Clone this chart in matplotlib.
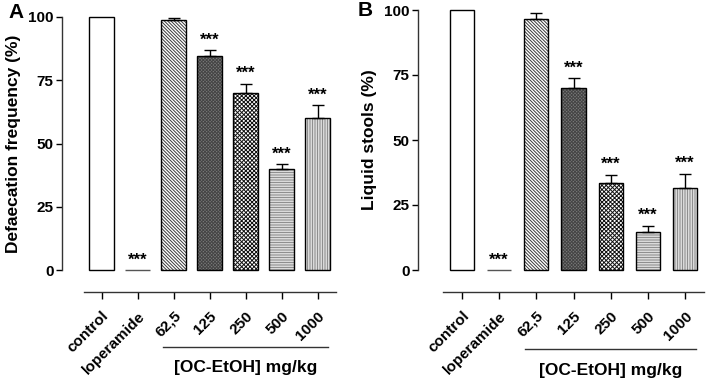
import numpy as np
import matplotlib
matplotlib.use("Agg")
from matplotlib import pyplot as plt

plt.rcParams['font.family'] = ['Liberation Sans', 'DejaVu Sans']
plt.rcParams['font.weight'] = 'bold'
plt.rcParams['hatch.linewidth'] = 0.7

groups = ['control', 'loperamide', '62,5', '125', '250', '500', '1000']
dose_label = '[OC-EtOH] mg/kg'

defaecation = [100, 0, 98.8, 84.6, 70.0, 40.0, 60.0]
defaecation_err = [0, 0, 0.8, 2.2, 3.6, 1.9, 5.2]

liquid = [100, 0, 96.7, 70.0, 33.3, 14.8, 31.7]
liquid_err = [0, 0, 2.1, 3.7, 3.4, 2.3, 5.3]

signif = ['', '***', '', '***', '***', '***', '***']

faces = ['white', 'white', 'white', '#7a7a7a', 'white', 'white', 'white']
hatch_cols = ['white', 'white', '#3a3a3a', '#444444', '#111111', '#8c8c8c', '#8c8c8c']
edges = ['black', '#555555', 'black', 'black', 'black', 'black', 'black']
hatches = [None, None, '\\' * 10, 'x' * 10, 'x' * 8, '-' * 10, '|' * 10]


def panel(fig, rect, values, errors, ylabel, xleft, width):
    ax = fig.add_axes(rect)
    x = np.arange(len(groups))
    bars = ax.bar(x, values, width=width, color=faces, edgecolor=hatch_cols,
                  linewidth=0, zorder=2)
    for b, h in zip(bars, hatches):
        if h:
            b.set_hatch(h)
    ax.bar(x, values, width=width, fill=False, edgecolor=edges,
           linewidth=1.0, zorder=2.5, clip_on=False)
    ax.errorbar(x[2:], values[2:], yerr=[np.zeros(5), errors[2:]],
                fmt='none', ecolor='black', elinewidth=1.0, capsize=4,
                capthick=1.0, zorder=3)
    for xi, v, e, s in zip(x, values, errors, signif):
        if s:
            ax.text(xi, v + e + 1.0, s, ha='center', va='bottom',
                    fontsize=12, fontweight='bold', clip_on=False)

    ax.set_xlim(xleft, 6.55)
    ax.set_ylim(0, 100)
    ax.set_yticks([0, 25, 50, 75, 100])
    ax.tick_params(axis='y', labelsize=11, width=1, length=4, pad=2)
    ax.set_ylabel(ylabel, fontsize=12.5, fontweight='bold', labelpad=5)

    for s in ['top', 'right']:
        ax.spines[s].set_visible(False)
    ax.spines['left'].set_linewidth(1)
    ax.spines['left'].set_color('#333333')
    ax.spines['bottom'].set_position(('outward', 16))
    ax.spines['bottom'].set_bounds(-0.5, 6.5)
    ax.spines['bottom'].set_linewidth(1)
    ax.spines['bottom'].set_color('#333333')
    ax.set_xticks(x)
    ax.set_xticklabels(groups, rotation=45, ha='right', rotation_mode='anchor',
                       fontsize=11, fontweight='bold')
    ax.tick_params(axis='x', width=1, length=5, pad=7)

    tr = ax.get_xaxis_transform()
    ax.plot([1.7, 6.3], [-0.305, -0.305], color='#333333', lw=1,
            transform=tr, clip_on=False)
    ax.text(4.0, -0.385, dose_label, transform=tr, ha='center', va='center',
            fontsize=12.5, fontweight='bold')
    return ax


fig = plt.figure(figsize=(7.06, 3.8), dpi=100)
W, H = 706.0, 380.0
axA = panel(fig, [62 / W, 110 / H, 275.4 / W, 253 / H], defaecation,
            defaecation_err, 'Defaecation frequency (%)', -1.1, 0.7)
axB = panel(fig, [418 / W, 110 / H, 287.6 / W, 260 / H], liquid,
            liquid_err, 'Liquid stools (%)', -1.18, 0.65)
fig.text(8 / W, 1 - 13 / H, 'A', fontsize=15, fontweight='bold', va='center')
fig.text(358 / W, 1 - 11 / H, 'B', fontsize=15, fontweight='bold', va='center')

fig.savefig('out.png', dpi=100)
